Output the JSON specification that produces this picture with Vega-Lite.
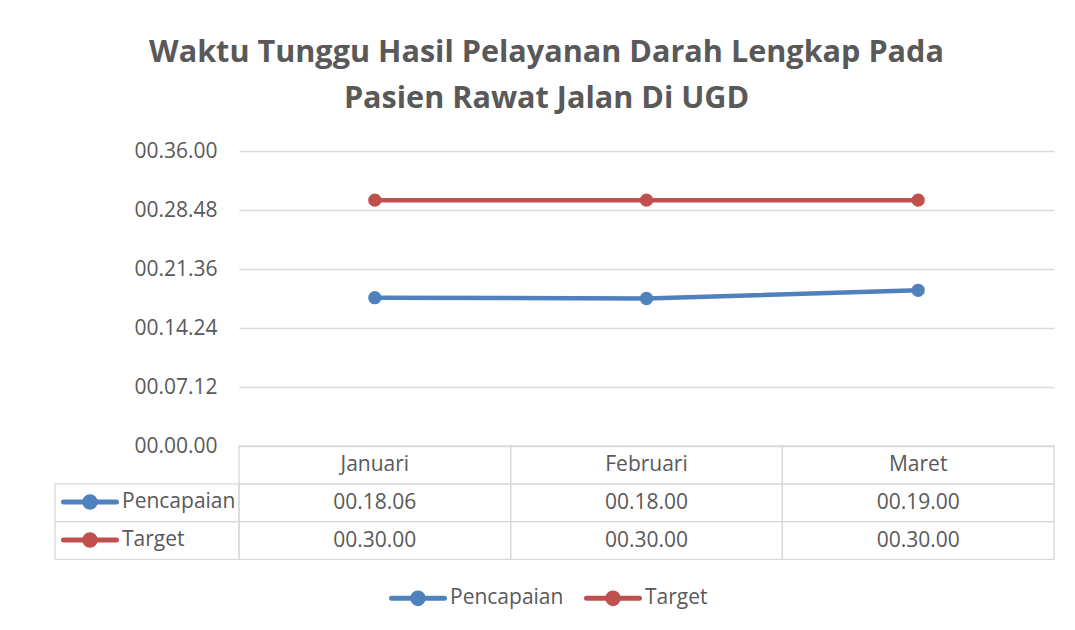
{
  "$schema": "https://vega.github.io/schema/vega-lite/v6.json",
  "padding": {"left": 54, "top": 38, "right": 22, "bottom": 10},
  "background": "white",
  "config": {
    "view": {"stroke": null},
    "font": "Open Sans",
    "text": {"font": "Open Sans"}
  },
  "title": {
    "text": ["Waktu Tunggu Hasil Pelayanan Darah Lengkap Pada", "Pasien Rawat Jalan Di UGD"],
    "font": "Open Sans",
    "fontSize": 30.6,
    "fontWeight": "bold",
    "color": "#595959",
    "lineHeight": 46,
    "anchor": "middle",
    "dx": -8,
    "offset": 25
  },
  "datasets": {
    "utama": [
      {"no": 1, "bulan": "Januari", "seri": "Pencapaian", "waktu": "2024-01-01T00:18:06"},
      {"no": 2, "bulan": "Februari", "seri": "Pencapaian", "waktu": "2024-01-01T00:18:00"},
      {"no": 3, "bulan": "Maret", "seri": "Pencapaian", "waktu": "2024-01-01T00:19:00"},
      {"no": 1, "bulan": "Januari", "seri": "Target", "waktu": "2024-01-01T00:30:00"},
      {"no": 2, "bulan": "Februari", "seri": "Target", "waktu": "2024-01-01T00:30:00"},
      {"no": 3, "bulan": "Maret", "seri": "Target", "waktu": "2024-01-01T00:30:00"}
    ]
  },
  "columns": 2,
  "align": "each",
  "bounds": "flush",
  "spacing": 0,
  "resolve": {"scale": {"color": "independent", "x": "independent", "y": "independent"}, "legend": {"color": "independent"}},
  "concat": [
    {
      "width": 184,
      "height": 295,
      "data": {"values": [{"k": 1}]},
      "mark": {"type": "text", "text": ""},
      "encoding": {}
    },
    {
      "width": 815,
      "height": 295,
      "data": {"name": "utama"},
      "mark": {"type": "line", "strokeWidth": 4.5, "point": {"filled": true, "size": 177, "opacity": 1}},
      "encoding": {
        "x": {"field": "bulan", "type": "nominal", "sort": ["Januari", "Februari", "Maret"], "scale": {"paddingInner": 0, "paddingOuter": 0}, "axis": null},
        "y": {
          "field": "waktu", "type": "temporal",
          "scale": {"domain": [{"year": 2024, "month": 1, "date": 1, "hours": 0, "minutes": 0}, {"year": 2024, "month": 1, "date": 1, "hours": 0, "minutes": 36}], "nice": false},
          "axis": {
            "title": null,
            "values": [
              {"year": 2024, "month": 1, "date": 1, "hours": 0, "minutes": 0},
              {"year": 2024, "month": 1, "date": 1, "hours": 0, "minutes": 7, "seconds": 12},
              {"year": 2024, "month": 1, "date": 1, "hours": 0, "minutes": 14, "seconds": 24},
              {"year": 2024, "month": 1, "date": 1, "hours": 0, "minutes": 21, "seconds": 36},
              {"year": 2024, "month": 1, "date": 1, "hours": 0, "minutes": 28, "seconds": 48},
              {"year": 2024, "month": 1, "date": 1, "hours": 0, "minutes": 36}
            ],
            "format": "%H.%M.%S",
            "grid": true, "gridColor": "#D9D9D9", "gridWidth": 1.3,
            "ticks": false, "domain": false,
            "labelFontSize": 21, "labelColor": "#595959", "labelFont": "Open Sans", "labelPadding": 22
          }
        },
        "order": {"field": "no", "type": "quantitative"},
        "color": {
          "field": "seri", "type": "nominal",
          "scale": {"domain": ["Pencapaian", "Target"], "range": ["#4F81BD", "#C0504D"]},
          "legend": {
            "title": null, "orient": "none", "direction": "horizontal",
            "legendX": 150, "legendY": 418,
            "padding": 0, "columnPadding": 12,
            "symbolType": "M-1,0L1,0M0.2,0A0.2,0.2,0,1,1,-0.2,0A0.2,0.2,0,1,1,0.2,0Z",
            "symbolSize": 2809,
            "labelFontSize": 21, "labelColor": "#595959", "labelFont": "Open Sans", "labelOffset": 3,
            "encoding": {"symbols": {
              "fill": {"condition": {"test": "datum.value === 'Target'", "value": "#C0504D"}, "value": "#4F81BD"},
              "stroke": {"condition": {"test": "datum.value === 'Target'", "value": "#C0504D"}, "value": "#4F81BD"},
              "strokeWidth": {"value": 5}, "strokeCap": {"value": "round"}, "opacity": {"value": 1}
            }}
          }
        }
      }
    },
    {
      "width": 184,
      "height": 113.4,
      "data": {"name": "utama"},
      "transform": [{"filter": "datum.bulan === 'Januari'"}],
      "mark": {"type": "rect", "fillOpacity": 0, "stroke": "#D9D9D9", "strokeWidth": 1.3},
      "encoding": {
        "y": {"field": "seri", "type": "nominal", "scale": {"domain": ["Bulan", "Pencapaian", "Target"], "paddingInner": 0, "paddingOuter": 0}, "axis": null},
        "color": {
          "field": "seri", "type": "nominal",
          "scale": {"domain": ["Pencapaian", "Target"], "range": ["#4F81BD", "#C0504D"]},
          "legend": {
            "title": null, "orient": "none", "direction": "vertical",
            "legendX": 6, "legendY": 37,
            "padding": 0, "rowPadding": 0, "clipHeight": 38,
            "symbolType": "M-1,0L1,0M0.2,0A0.2,0.2,0,1,1,-0.2,0A0.2,0.2,0,1,1,0.2,0Z",
            "symbolSize": 2809,
            "labelFontSize": 21, "labelColor": "#595959", "labelFont": "Open Sans", "labelOffset": 3,
            "encoding": {"symbols": {
              "fill": {"condition": {"test": "datum.value === 'Target'", "value": "#C0504D"}, "value": "#4F81BD"},
              "stroke": {"condition": {"test": "datum.value === 'Target'", "value": "#C0504D"}, "value": "#4F81BD"},
              "strokeWidth": {"value": 5}, "strokeCap": {"value": "round"}, "opacity": {"value": 1},
              "fillOpacity": {"value": 1}, "strokeOpacity": {"value": 1}
            }}
          }
        }
      }
    },
    {
      "width": 815,
      "height": 113.4,
      "data": {"name": "utama"},
      "layer": [
        {
          "mark": {"type": "rect", "fillOpacity": 0, "stroke": "#D9D9D9", "strokeWidth": 1.3},
          "encoding": {
            "x": {"field": "bulan", "type": "nominal", "sort": ["Januari", "Februari", "Maret"], "scale": {"paddingInner": 0, "paddingOuter": 0}, "axis": null},
            "y": {"field": "seri", "type": "nominal", "scale": {"domain": ["Bulan", "Pencapaian", "Target"], "paddingInner": 0, "paddingOuter": 0}, "axis": null}
          }
        },
        {
          "mark": {"type": "text", "fontSize": 21, "color": "#595959", "font": "Open Sans"},
          "encoding": {
            "x": {"field": "bulan", "type": "nominal", "sort": ["Januari", "Februari", "Maret"], "axis": null},
            "y": {"field": "seri", "type": "nominal", "axis": null},
            "text": {"field": "waktu", "type": "temporal", "format": "%H.%M.%S"}
          }
        },
        {
          "transform": [{"filter": "datum.seri === 'Target'"}],
          "mark": {"type": "rect", "fillOpacity": 0, "stroke": "#D9D9D9", "strokeWidth": 1.3},
          "encoding": {
            "x": {"field": "bulan", "type": "nominal", "sort": ["Januari", "Februari", "Maret"], "axis": null},
            "y": {"datum": "Bulan", "type": "nominal", "axis": null}
          }
        },
        {
          "transform": [{"filter": "datum.seri === 'Target'"}],
          "mark": {"type": "text", "fontSize": 21, "color": "#595959", "font": "Open Sans"},
          "encoding": {
            "x": {"field": "bulan", "type": "nominal", "sort": ["Januari", "Februari", "Maret"], "axis": null},
            "y": {"datum": "Bulan", "type": "nominal", "axis": null},
            "text": {"field": "bulan", "type": "nominal"}
          }
        }
      ]
    }
  ]
}
